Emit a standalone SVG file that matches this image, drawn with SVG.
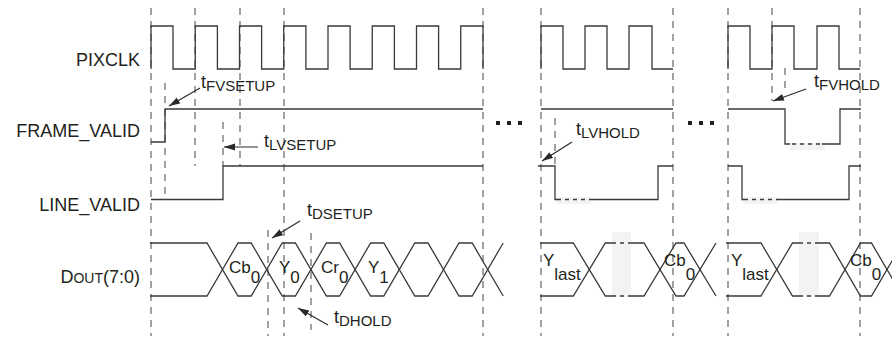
<svg xmlns="http://www.w3.org/2000/svg" width="892" height="339" viewBox="0 0 892 339">
<style>
.w{fill:none;stroke:#3a3a3a;stroke-width:1.3}
.g{fill:none;stroke:#444;stroke-width:1;stroke-dasharray:7 6}
.br{fill:none;stroke:#3a3a3a;stroke-width:1.3;stroke-dasharray:4 4}
.bk{fill:#f3f3f3}
.a{fill:none;stroke:#2a2a2a;stroke-width:1.2}
text{font-family:"Liberation Sans",Arial,sans-serif;fill:#231f20}
.lbl{font-size:18px;text-anchor:end}
.t{font-size:18px}
.s{font-size:15px}
.dl{font-size:17px}
.dot{fill:#231f20}
</style>
<defs>
<marker id="ah" markerUnits="userSpaceOnUse" markerWidth="12" markerHeight="8" refX="11" refY="3.5" orient="auto">
<path d="M0,0 L11,3.5 L0,7 z" fill="#2a2a2a"/>
</marker>
</defs>

<g id="grid">
<line class="g" x1="151" y1="8" x2="151" y2="336"/>
<line class="g" x1="284" y1="8" x2="284" y2="336"/>
<line class="g" x1="483" y1="8" x2="483" y2="336"/>
<line class="g" x1="541" y1="8" x2="541" y2="336"/>
<line class="g" x1="673" y1="8" x2="673" y2="336"/>
<line class="g" x1="728" y1="8" x2="728" y2="336"/>
<line class="g" x1="860" y1="8" x2="860" y2="336"/>
<line class="g" x1="195" y1="8" x2="195" y2="166"/>
<line class="g" x1="240" y1="8" x2="240" y2="166"/>
<line class="g" x1="165" y1="83" x2="165" y2="196"/>
<line class="g" x1="223" y1="122" x2="223" y2="166"/>
<line class="g" x1="268" y1="230" x2="268" y2="336"/>
<line class="g" x1="311" y1="233" x2="311" y2="330"/>
<line class="g" x1="555" y1="118" x2="555" y2="166"/>
<line class="g" x1="772" y1="8" x2="772" y2="101"/>
<line class="g" x1="785" y1="68" x2="785" y2="93"/>
</g>

<g id="labels">
<text class="lbl" x="140" y="66">PIXCLK</text>
<text class="lbl" x="140" y="137">FRAME_VALID</text>
<text class="lbl" x="140" y="210.5">LINE_VALID</text>
<text class="lbl" x="140" y="283">D<tspan font-size="14">OUT</tspan>(7:0)</text>
</g>

<g id="pixclk">
<path class="w" d="M151,69 V26 H173 V69 H195.25 V26 H217.4 V69 H239.5 V26 H261.6 V69 H283.75 V26 H305.9 V69 H328 V26 H350.1 V69 H372.25 V26 H394.4 V69 H416.5 V26 H438.6 V69 H460.75 V26 H483 V69"/>
<path class="w" d="M541,69 V26 H563 V69 H585 V26 H607 V69 H629 V26 H652 V69 H673"/>
<path class="w" d="M728,69 V26 H750 V69 H772 V26 H794 V69 H817 V26 H839 V69 H860"/>
</g>

<g id="frame_valid">
<path class="w" d="M151,142 H165 V109 H483"/>
<path class="w" d="M541,109 H673"/>
<rect class="bk" x="790" y="143" width="35" height="7"/>
<path class="w" d="M728,109 H785 V144 H790 M822,144 H840 V109 H861"/>
<line class="br" x1="792" y1="144" x2="822" y2="144"/>
</g>

<g id="line_valid">
<path class="w" d="M151,199.5 H223 V166 H483"/>
<rect class="bk" x="556" y="197" width="35" height="7"/>
<path class="w" d="M538,166 H555 V199.5 H557 M590,199.5 H658 V166 H673"/>
<line class="br" x1="557" y1="199.5" x2="590" y2="199.5"/>
<rect class="bk" x="743" y="197" width="35" height="7"/>
<path class="w" d="M728,166 H742 V199.5 H744 M777,199.5 H849 V166 H861"/>
<line class="br" x1="744" y1="199.5" x2="777" y2="199.5"/>
</g>

<g id="dots">
<rect class="dot" x="496" y="121" width="4" height="4"/>
<rect class="dot" x="507" y="121" width="4" height="4"/>
<rect class="dot" x="518" y="121" width="4" height="4"/>
<rect class="dot" x="688" y="121" width="4" height="4"/>
<rect class="dot" x="699" y="121" width="4" height="4"/>
<rect class="dot" x="710" y="121" width="4" height="4"/>
</g>

<g id="dout">
<path class="w" d="M150,243 H207 L238,296 H251.2 L282.2,243 H295.4 L326.4,296 H339.6 L370.6,243 H383.8 L414.8,296 H428 L459,243 H472.2 L503.2,296"/>
<path class="w" d="M150,296 H207 L238,243 H251.2 L282.2,296 H295.4 L326.4,243 H339.6 L370.6,296 H383.8 L414.8,243 H428 L459,296 H472.2 L503.2,243"/>
<rect class="bk" x="612" y="232" width="19" height="65"/>
<path class="w" d="M540,243 H573.3 L605.3,296 H612 M631,296 H644 L676,243 H684 L716,296"/>
<path class="w" d="M540,296 H573.3 L605.3,243 H612 M631,243 H644 L676,296 H684 L716,243"/>
<line class="br" x1="612" y1="243" x2="631" y2="243" stroke-dasharray="5 5 2 5"/>
<line class="br" x1="612" y1="296" x2="631" y2="296" stroke-dasharray="5 5 2 5"/>
<rect class="bk" x="799" y="232" width="20" height="65"/>
<path class="w" d="M726,243 H761 L792.5,296 H799 M819,296 H829.5 L860.5,243 H871.5 L902.5,296"/>
<path class="w" d="M726,296 H761 L792.5,243 H799 M819,243 H829.5 L860.5,296 H871.5 L902.5,243"/>
<line class="br" x1="799" y1="243" x2="819" y2="243" stroke-dasharray="5 5 2 5"/>
<line class="br" x1="799" y1="296" x2="819" y2="296" stroke-dasharray="5 5 2 5"/>
<text class="dl" x="229" y="273">Cb<tspan y="283">0</tspan></text>
<text class="dl" x="279" y="273">Y<tspan y="283">0</tspan></text>
<text class="dl" x="321" y="273">Cr<tspan y="283">0</tspan></text>
<text class="dl" x="368" y="273">Y<tspan y="283">1</tspan></text>
<text class="dl" x="543" y="266">Y<tspan y="280">last</tspan></text>
<text class="dl" x="664" y="266">Cb<tspan y="280">0</tspan></text>
<text class="dl" x="731" y="266">Y<tspan y="280">last</tspan></text>
<text class="dl" x="850" y="266">Cb<tspan y="280">0</tspan></text>
</g>

<g id="connectors">
<line class="a" x1="200" y1="88" x2="169" y2="106" marker-end="url(#ah)"/>
<line class="a" x1="258" y1="147" x2="224" y2="147" marker-end="url(#ah)"/>
<line class="a" x1="572" y1="142" x2="542" y2="161" marker-end="url(#ah)"/>
<line class="a" x1="806" y1="89" x2="773" y2="101" marker-end="url(#ah)"/>
<line class="a" x1="300" y1="221" x2="272" y2="238" marker-end="url(#ah)"/>
<line class="a" x1="328" y1="325" x2="298" y2="308" marker-end="url(#ah)"/>
</g>

<g id="timing-labels">
<text class="t" x="201" y="88">t<tspan class="s" y="90.5">FVSETUP</tspan></text>
<text class="t" x="264" y="147">t<tspan class="s" y="150">LVSETUP</tspan></text>
<text class="t" x="576" y="135">t<tspan class="s" y="138">LVHOLD</tspan></text>
<text class="t" x="814" y="87">t<tspan class="s" y="90">FVHOLD</tspan></text>
<text class="t" x="307" y="216">t<tspan class="s" y="219">DSETUP</tspan></text>
<text class="t" x="334" y="323">t<tspan class="s" y="326">DHOLD</tspan></text>
</g>
</svg>
